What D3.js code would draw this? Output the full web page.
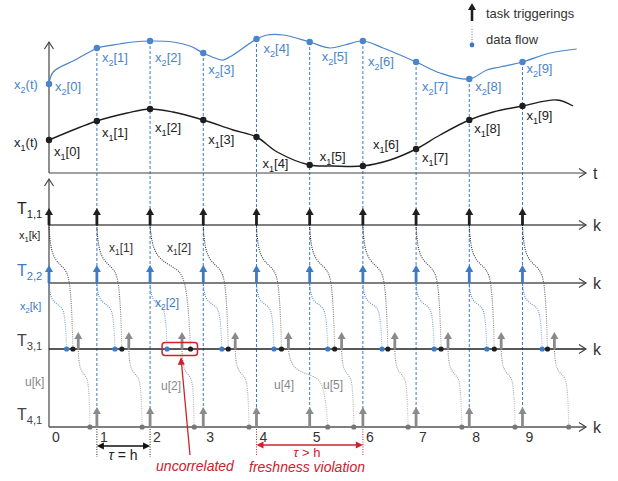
<!DOCTYPE html>
<html>
<head>
<meta charset="utf-8">
<script src="https://cdnjs.cloudflare.com/ajax/libs/d3/7.8.5/d3.min.js"></script>
<style>
body{margin:0;background:#fff;}
text{font-family:"Liberation Sans",Arial,Helvetica,sans-serif;}
</style>
</head>
<body>
<div id="chart"></div>
<script>
// sampling instants k = 0..9 (time units)
var sampleT = [0, 0.9, 1.9, 2.9, 3.9, 4.9, 5.9, 6.9, 7.9, 8.9];
var kTicks = ["0","1","2","3","4","5","6","7","8","9"];

// continuous signals x1(t), x2(t)
var x1CurveT = [0, 0.9, 1.47, 1.9, 2.33, 2.9, 3.46, 3.9, 4.29, 4.9, 5.34, 5.9, 6.41, 6.9, 7.35, 7.9, 8.35, 8.9, 9.55, 9.85];
var x1CurveV = [33, 52, 60, 64, 61, 53, 43, 36, 21, 8, 7, 7, 13, 24, 38, 53, 61, 67, 73, 67];
var x2CurveT = [0, 0.08, 0.49, 0.83, 0.9, 1.33, 1.58, 1.9, 2.33, 2.65, 2.9, 3.12, 3.27, 3.46, 3.9, 4.1, 4.4, 4.9, 5.28, 5.56, 5.9, 6.28, 6.9, 7.35, 7.9, 8.23, 8.48, 8.9, 9.42, 9.92];
var x2CurveV = [89, 101, 113, 123, 125, 129, 131, 132, 131, 127, 120, 115, 113, 118, 134, 138, 138, 131, 125, 128, 132, 125, 111, 100, 94, 103, 106, 111, 120, 124];

// sampled values x1[k], x2[k]
var x1Samples = [33, 52, 64, 53, 36, 8, 7, 24, 53, 67];
var x2Samples = [89, 125, 132, 120, 134, 131, 132, 111, 94, 111];

// task T3,1 triggerings and arrival times of data
var t3Trig = [0.55, 1.5, 2.5, 3.5, 4.5, 5.5, 6.5, 7.5, 8.5, 9.5];
var x1Arrive = [0.45, 1.37, 2.66, 3.37, 4.37, 5.37, 6.37, 7.37, 8.37, 9.37];
var x2Arrive = [0.33, 1.24, 2.22, 3.25, 4.23, 5.24, 6.26, 7.24, 8.23, 9.27];
var uArrive = [0.77, 1.75, 2.73, 3.76, 5.24, 5.73, 6.75, 7.76, 8.76, 9.77];

// label placement (pixels)
var x1LabelDx = [5, 5, 5, 5, 6, 10, 10, 6, 5, 4];
var x1LabelY = [156, 137, 132, 144, 168, 161, 149, 162, 133, 120];
var x2LabelDx = [6, 5, 5, 5, 7, 12, 5, 6, 6, 4];
var x2LabelY = [91, 62, 62, 74, 53, 61, 66, 91, 91, 73];

var W = 618, H = 481;
var blue = "#3c79c6", black = "#1e1e1e", gray = "#8a8a8a", red = "#d0202e", axisC = "#444";

var svg = d3.select("#chart").append("svg").attr("width", W).attr("height", H);
var defs = svg.append("defs");
function grad(id, c1, c2) {
    var g = defs.append("linearGradient").attr("id", id).attr("x1", 0).attr("y1", 0).attr("x2", 0).attr("y2", 1);
    g.append("stop").attr("offset", "0%").attr("stop-color", c1);
    g.append("stop").attr("offset", "100%").attr("stop-color", c2);
}
grad("gBlack", "#111", "#aaa");
grad("gBlue", "#3c79c6", "#a9c4e6");
grad("gGray", "#888", "#c8c8c8");

var x = d3.scaleLinear().domain([0, 10]).range([49, 581]);
var yTop = d3.scaleLinear().domain([0, 130]).range([173, 43]);
var rowY = {T1: 225, T2: 283, T3: 349, T4: 427};

function subText(g, px, py, base, sub, rest, size, color, anchor) {
    var t = g.append("text").attr("x", px).attr("y", py).attr("font-size", size)
        .attr("fill", color).attr("text-anchor", anchor || "start");
    t.append("tspan").text(base);
    t.append("tspan").attr("font-size", size * 0.7).attr("dy", size * 0.28).text(sub);
    if (rest) t.append("tspan").attr("dy", -size * 0.28).text(rest);
    return t;
}
function chevronRight(g, px, py) {
    g.append("path").attr("d", `M${px-7},${py-4.5}L${px},${py}L${px-7},${py+4.5}`)
        .attr("fill", "none").attr("stroke", axisC).attr("stroke-width", 1.2);
}
function chevronUp(g, px, py) {
    g.append("path").attr("d", `M${px-4.5},${py+7}L${px},${py}L${px+4.5},${py+7}`)
        .attr("fill", "none").attr("stroke", axisC).attr("stroke-width", 1.2);
}
function trigArrow(g, px, yBase, len, color, sw) {
    g.append("line").attr("x1", px).attr("x2", px).attr("y1", yBase).attr("y2", yBase - len + 5)
        .attr("stroke", color).attr("stroke-width", sw);
    g.append("path").attr("d", `M${px-4},${yBase-len+7}L${px},${yBase-len}L${px+4},${yBase-len+7}Z`)
        .attr("fill", color);
}
// S-shaped transfer curve between two points
var sShape = [[0,0],[0.03,0.12],[0.15,0.25],[0.45,0.32],[0.75,0.37],[0.88,0.48],[0.96,0.72],[1,1]];
var sLine = d3.line().curve(d3.curveBasis);
function sPath(x0, y0, x1, y1) {
    return sLine(sShape.map(function(p) { return [x0 + p[0] * (x1 - x0), y0 + p[1] * (y1 - y0)]; }));
}

var g = svg.append("g");

// ---------- top panel ----------
// dashed sampling lines
sampleT.forEach(function(t, k) {
    if (k === 0) return;
    g.append("line").attr("x1", x(t)).attr("x2", x(t))
        .attr("y1", yTop(x2Samples[k])).attr("y2", rowY.T4 - 4)
        .attr("stroke", blue).attr("stroke-width", 1).attr("stroke-dasharray", "3,2");
});

g.append("line").attr("x1", 49).attr("x2", 49).attr("y1", 173).attr("y2", 42).attr("stroke", axisC).attr("stroke-width", 1.2);
chevronUp(g, 49, 42);
g.append("line").attr("x1", 49).attr("x2", 586).attr("y1", 173).attr("y2", 173).attr("stroke", axisC).attr("stroke-width", 1.2);
chevronRight(g, 586, 173);
g.append("text").attr("x", 593).attr("y", 179).attr("font-size", 16).attr("fill", "#333").text("t");

var sigLine = d3.line().curve(d3.curveCatmullRom);
g.append("path").attr("d", sigLine(x2CurveT.map(function(t, i) { return [x(t), yTop(x2CurveV[i])]; })))
    .attr("fill", "none").attr("stroke", "#4a84ca").attr("stroke-width", 1.2);
g.append("path").attr("d", sigLine(x1CurveT.map(function(t, i) { return [x(t), yTop(x1CurveV[i])]; })))
    .attr("fill", "none").attr("stroke", black).attr("stroke-width", 1.4);

g.selectAll(".d2").data(sampleT).enter().append("circle")
    .attr("cx", function(d) { return x(d); }).attr("cy", function(d, i) { return yTop(x2Samples[i]); })
    .attr("r", 3.2).attr("fill", "#4a84ca");
g.selectAll(".d1").data(sampleT).enter().append("circle")
    .attr("cx", function(d) { return x(d); }).attr("cy", function(d, i) { return yTop(x1Samples[i]); })
    .attr("r", 3.2).attr("fill", black);

sampleT.forEach(function(t, k) {
    subText(g, x(t) + x2LabelDx[k], x2LabelY[k], "x", "2", "[" + k + "]", 13, "#4a84ca");
    subText(g, x(t) + x1LabelDx[k], x1LabelY[k], "x", "1", "[" + k + "]", 13, "#222");
});
subText(g, 14, 89, "x", "2", "(t)", 13, "#4a84ca");
subText(g, 14, 147, "x", "1", "(t)", 13, "#222");

// legend
trigArrow(g, 472, 21, 18, black, 2.6);
g.append("text").attr("x", 486).attr("y", 18).attr("font-size", 13).attr("fill", "#333").text("task triggerings");
g.append("line").attr("x1", 472).attr("x2", 472).attr("y1", 29).attr("y2", 44)
    .attr("stroke", blue).attr("stroke-width", 1).attr("stroke-dasharray", "1,1.5");
g.append("circle").attr("cx", 472).attr("cy", 45).attr("r", 2.4).attr("fill", blue);
g.append("text").attr("x", 486).attr("y", 44).attr("font-size", 13).attr("fill", "#333").text("data flow");

// ---------- bottom panel ----------
g.append("line").attr("x1", 49).attr("x2", 49).attr("y1", rowY.T4).attr("y2", 179).attr("stroke", axisC).attr("stroke-width", 1.2);
chevronUp(g, 49, 179);
["T1", "T2", "T3", "T4"].forEach(function(r) {
    g.append("line").attr("x1", 49).attr("x2", 586).attr("y1", rowY[r]).attr("y2", rowY[r])
        .attr("stroke", r === "T3" ? "#222" : "#555").attr("stroke-width", 1.3);
    chevronRight(g, 586, rowY[r]);
    g.append("text").attr("x", 593).attr("y", rowY[r] + 6).attr("font-size", 16).attr("fill", "#333").text("k");
});

// data flow curves
sampleT.forEach(function(t, k) {
    g.append("path").attr("d", sPath(x(t), rowY.T1, x(x1Arrive[k]), rowY.T3))
        .attr("fill", "none").attr("stroke", "url(#gBlack)").attr("stroke-width", 1.1).attr("stroke-dasharray", "1,1.2");
    g.append("path").attr("d", sPath(x(t), rowY.T2, x(x2Arrive[k]), rowY.T3))
        .attr("fill", "none").attr("stroke", "url(#gBlue)").attr("stroke-width", 1.1).attr("stroke-dasharray", "1,1.2");
    g.append("path").attr("d", sPath(x(t3Trig[k]), rowY.T3, x(uArrive[k]), rowY.T4))
        .attr("fill", "none").attr("stroke", "url(#gGray)").attr("stroke-width", 1.1).attr("stroke-dasharray", "1,1.2");
});

// arrivals
x2Arrive.forEach(function(t) { g.append("circle").attr("cx", x(t)).attr("cy", rowY.T3).attr("r", 2.6).attr("fill", blue); });
x1Arrive.forEach(function(t) { g.append("circle").attr("cx", x(t)).attr("cy", rowY.T3).attr("r", 2.6).attr("fill", black); });
uArrive.forEach(function(t) { g.append("circle").attr("cx", x(t)).attr("cy", rowY.T4).attr("r", 2.6).attr("fill", "#777"); });

// task triggerings
sampleT.forEach(function(t, k) {
    trigArrow(g, x(t), rowY.T1, 17, black, 2.8);
    trigArrow(g, x(t), rowY.T2, 18, blue, 2.8);
    if (k > 0) trigArrow(g, x(t), rowY.T4, 20, gray, 2.8);
});
t3Trig.forEach(function(t) { trigArrow(g, x(t), rowY.T3, 17, gray, 2.8); });

// row labels
subText(g, 17, 214, "T", "1,1", "", 16, "#222");
subText(g, 17, 276, "T", "2,2", "", 16, blue);
subText(g, 17, 346, "T", "3,1", "", 16, "#444");
subText(g, 17, 420, "T", "4,1", "", 16, "#444");
subText(g, 19, 239, "x", "1", "[k]", 11, "#222");
subText(g, 20, 310, "x", "2", "[k]", 11, blue);
g.append("text").attr("x", 25).attr("y", 386).attr("font-size", 12).attr("fill", "#888").text("u[k]");

subText(g, 109, 252, "x", "1", "[1]", 12, "#333");
subText(g, 167, 252, "x", "1", "[2]", 12, "#333");
subText(g, 155, 307, "x", "2", "[2]", 12, blue);
g.append("text").attr("x", 161).attr("y", 390).attr("font-size", 12).attr("fill", "#888").text("u[2]");
g.append("text").attr("x", 274).attr("y", 389).attr("font-size", 12).attr("fill", "#888").text("u[4]");
g.append("text").attr("x", 323).attr("y", 389).attr("font-size", 12).attr("fill", "#888").text("u[5]");

// k tick labels
g.selectAll(".kt").data(kTicks).enter().append("text")
    .attr("x", function(d, i) { return x(sampleT[i]) + 3; }).attr("y", 442)
    .attr("font-size", 14).attr("fill", "#333").text(function(d) { return d; });

// ---------- annotations ----------
function hArrow(y, xa, xb, color) {
    g.append("line").attr("x1", xa + 5).attr("x2", xb - 5).attr("y1", y).attr("y2", y).attr("stroke", color).attr("stroke-width", 1.3);
    g.append("path").attr("d", `M${xa},${y}L${xa+7},${y-3.5}L${xa+7},${y+3.5}Z`).attr("fill", color);
    g.append("path").attr("d", `M${xb},${y}L${xb-7},${y-3.5}L${xb-7},${y+3.5}Z`).attr("fill", color);
}
[1, 2].forEach(function(k) {
    g.append("line").attr("x1", x(sampleT[k])).attr("x2", x(sampleT[k])).attr("y1", 429).attr("y2", 457)
        .attr("stroke", "#222").attr("stroke-width", 1).attr("stroke-dasharray", "1,1.5");
});
hArrow(446, x(sampleT[1]), x(sampleT[2]), "#111");
var th = g.append("text").attr("x", 123).attr("y", 460).attr("font-size", 14).attr("fill", "#222").attr("text-anchor", "middle");
th.append("tspan").attr("font-style", "italic").text("τ");
th.append("tspan").text(" = h");

[4, 6].forEach(function(k) {
    g.append("line").attr("x1", x(sampleT[k])).attr("x2", x(sampleT[k])).attr("y1", 429).attr("y2", 456)
        .attr("stroke", red).attr("stroke-width", 1).attr("stroke-dasharray", "1,1.5");
});
hArrow(445, x(sampleT[4]), x(sampleT[6]), red);
var tg = g.append("text").attr("x", 307).attr("y", 457).attr("font-size", 13).attr("fill", red).attr("text-anchor", "middle");
tg.append("tspan").attr("font-style", "italic").text("τ");
tg.append("tspan").text(" > h");
g.append("text").attr("x", 307).attr("y", 472).attr("font-size", 14).attr("font-style", "italic")
    .attr("fill", red).attr("text-anchor", "middle").text("freshness violation");

// uncorrelated samples box
var bx0 = x(x2Arrive[2]) - 5, bx1 = x(x1Arrive[2]) + 7;
g.append("rect").attr("x", bx0).attr("y", rowY.T3 - 6.5).attr("width", bx1 - bx0).attr("height", 13)
    .attr("rx", 3).attr("fill", "none").attr("stroke", red).attr("stroke-width", 1.5);
g.append("line").attr("x1", 190).attr("y1", 455).attr("x2", 181.5).attr("y2", 363)
    .attr("stroke", red).attr("stroke-width", 1.3);
g.append("path").attr("d", "M181,357L177.8,365L184.8,364.4Z").attr("fill", red);
g.append("text").attr("x", 195).attr("y", 471).attr("font-size", 14).attr("font-style", "italic")
    .attr("fill", red).attr("text-anchor", "middle").text("uncorrelated");
</script>
</body>
</html>
